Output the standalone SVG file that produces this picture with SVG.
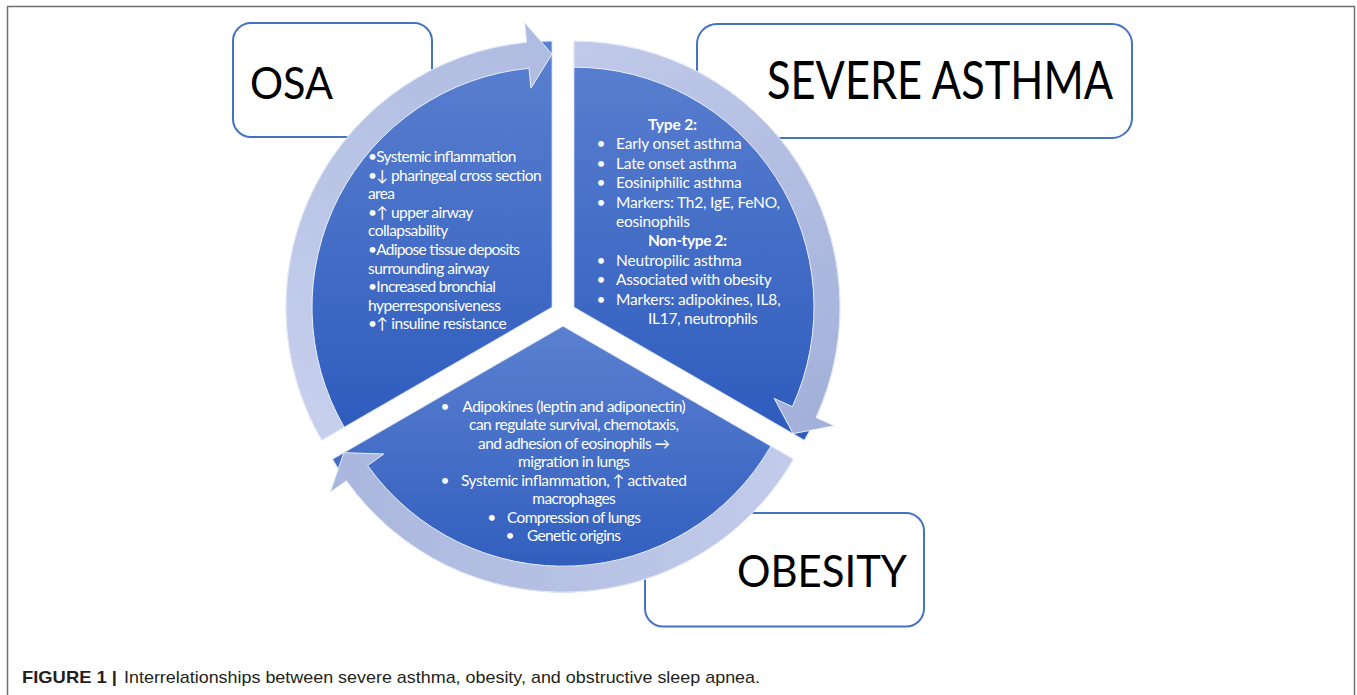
<svg xmlns="http://www.w3.org/2000/svg" width="1357" height="695" viewBox="0 0 1357 695">
  <defs>
    <style>
      .frame { fill: none; stroke: #707070; stroke-width: 1.5; }
      .box { fill: #ffffff; stroke: #4472c4; stroke-width: 2; }
      .title { font-family: "Lato", "Liberation Sans", sans-serif; fill: #000000; }
      .wedge { stroke: #d6def3; stroke-width: 0.8; }
      .body { font-family: "Lato", "Liberation Sans", "DejaVu Sans", sans-serif; fill: #ffffff; font-size: 15.5px; }
      .bold { font-weight: bold; }
      .ring { stroke: #e9eefa; stroke-width: 1; }
      .cap { font-family: "Liberation Sans", Arial, sans-serif; font-size: 17px; fill: #231f20; }
    </style>
    <linearGradient id="wedgeFill" x1="0" y1="0" x2="0" y2="1">
      <stop offset="0" stop-color="#5b80d0"/>
      <stop offset="1" stop-color="#2d5bbd"/>
    </linearGradient>
    <linearGradient id="ringOsa" gradientUnits="userSpaceOnUse" x1="330" y1="440" x2="540" y2="40">
      <stop offset="0" stop-color="#c6cfec"/>
      <stop offset="1" stop-color="#afbce1"/>
    </linearGradient>
    <linearGradient id="ringAsthma" gradientUnits="userSpaceOnUse" x1="574" y1="50" x2="800" y2="430">
      <stop offset="0" stop-color="#c0c9e9"/>
      <stop offset="1" stop-color="#a3b1da"/>
    </linearGradient>
    <linearGradient id="ringObesity" gradientUnits="userSpaceOnUse" x1="790" y1="460" x2="340" y2="470">
      <stop offset="0" stop-color="#c2cbea"/>
      <stop offset="1" stop-color="#aab7de"/>
    </linearGradient>
  </defs>

  <rect width="1357" height="695" fill="#ffffff"/>
  <path class="frame" d="M7.5,700 V6.5 H1354.5 V700"/>

  <!-- OSA -->
  <g id="osa">
    <rect class="box" x="233" y="23" width="199" height="114" rx="18" ry="18"/>
    <text class="title" x="250" y="98.5" font-size="45" textLength="83" lengthAdjust="spacingAndGlyphs">OSA</text>
    <path class="wedge" fill="url(#wedgeFill)" d="M552,307.15 L321.64,440.15 A266,266 0 0 1 552,41.15 Z"/>
    <g class="body" font-size="15">
      <text x="368" y="162" textLength="148.4">•Systemic inflammation</text>
      <text x="368" y="180.6" textLength="173.7">•↓ pharingeal cross section</text>
      <text x="368" y="199.2" textLength="27">area</text>
      <text x="368" y="217.8" textLength="105.3">•↑ upper airway</text>
      <text x="368" y="236.4" textLength="80.3">collapsability</text>
      <text x="368" y="255" textLength="152">•Adipose tissue deposits</text>
      <text x="368" y="273.6" textLength="121.3">surrounding airway</text>
      <text x="368" y="292.2" textLength="128">•Increased bronchial</text>
      <text x="368" y="310.8" textLength="133">hyperresponsiveness</text>
      <text x="368" y="329.4" textLength="138.7">•↑ insuline resistance</text>
    </g>
  </g>

  <!-- SEVERE ASTHMA -->
  <g id="severe-asthma">
    <rect class="box" x="697" y="24" width="435" height="114" rx="20" ry="20"/>
    <text class="title" x="767" y="98.5" font-size="52" textLength="346" lengthAdjust="spacingAndGlyphs">SEVERE ASTHMA</text>
    <path class="wedge" fill="url(#wedgeFill)" d="M574,307.15 L574,41.15 A266,266 0 0 1 804.36,440.15 Z"/>
    <g class="body">
      <text class="bold" x="648" y="130" textLength="49">Type 2:</text>
      <text x="601" y="149.4" text-anchor="middle">•</text>
      <text x="616" y="149.4" textLength="125.7">Early onset asthma</text>
      <text x="601" y="168.8" text-anchor="middle">•</text>
      <text x="616" y="168.8" textLength="120.7">Late onset asthma</text>
      <text x="601" y="188.2" text-anchor="middle">•</text>
      <text x="616" y="188.2" textLength="125.7">Eosiniphilic asthma</text>
      <text x="601" y="207.6" text-anchor="middle">•</text>
      <text x="616" y="207.6" textLength="164">Markers: Th2, IgE, FeNO,</text>
      <text x="616" y="227" textLength="74">eosinophils</text>
      <text class="bold" x="648" y="246.4" textLength="79">Non-type 2:</text>
      <text x="601" y="265.8" text-anchor="middle">•</text>
      <text x="616" y="265.8" textLength="125.7">Neutropilic asthma</text>
      <text x="601" y="285.2" text-anchor="middle">•</text>
      <text x="616" y="285.2" textLength="155.7">Associated with obesity</text>
      <text x="601" y="304.6" text-anchor="middle">•</text>
      <text x="616" y="304.6" textLength="164.7">Markers: adipokines, IL8,</text>
      <text x="648" y="324" textLength="109.7">IL17, neutrophils</text>
    </g>
  </g>

  <!-- OBESITY -->
  <g id="obesity">
    <rect class="box" x="645" y="513" width="279" height="113.5" rx="18" ry="18"/>
    <text class="title" x="737" y="586.5" font-size="44" textLength="170" lengthAdjust="spacingAndGlyphs">OBESITY</text>
    <path class="wedge" fill="url(#wedgeFill)" d="M563,326.2 L793.36,459.2 A266,266 0 0 1 332.64,459.2 Z"/>
    <g class="body" font-size="15">
      <text x="445" y="411.5" text-anchor="middle">•</text>
      <text x="574" y="411.5" text-anchor="middle" textLength="223.4">Adipokines (leptin and adiponectin)</text>
      <text x="574" y="430" text-anchor="middle" textLength="210">can regulate survival, chemotaxis,</text>
      <text x="574" y="448.5" text-anchor="middle" textLength="192">and adhesion of eosinophils →</text>
      <text x="574" y="467" text-anchor="middle" textLength="112">migration in lungs</text>
      <text x="445" y="485.5" text-anchor="middle">•</text>
      <text x="574" y="485.5" text-anchor="middle" textLength="226">Systemic inflammation, ↑ activated</text>
      <text x="574" y="504" text-anchor="middle" textLength="83.3">macrophages</text>
      <text x="491.7" y="522.5" text-anchor="middle">•</text>
      <text x="574" y="522.5" text-anchor="middle" textLength="134">Compression of lungs</text>
      <text x="510" y="541" text-anchor="middle">•</text>
      <text x="574" y="541" text-anchor="middle" textLength="94">Genetic origins</text>
    </g>
  </g>

  <!-- circular arrows linking the three conditions -->
  <g id="connectors">
    <path class="ring" fill="url(#ringAsthma)" d="M574,41.15 A266,266 0 0 1 816.05,417.46 L834.25,425.75 L793.1,433.65 L774.19,398.38 L792.39,406.68 A240,240 0 0 0 574,67.15 Z"/>
    <path class="ring" fill="url(#ringObesity)" d="M793.36,459.2 A266,266 0 0 1 346.44,480.67 L330.16,492.28 L343.9,452.7 L383.89,453.95 L367.61,465.57 A240,240 0 0 0 770.85,446.2 Z"/>
    <path class="ring" fill="url(#ringOsa)" d="M321.64,440.15 A266,266 0 0 1 526.5,42.37 L524.59,22.47 L552,54.15 L530.91,88.16 L529,68.25 A240,240 0 0 0 344.15,427.15 Z"/>
  </g>

  <!-- caption -->
  <text class="cap" x="22" y="683" font-weight="bold" textLength="95" lengthAdjust="spacingAndGlyphs">FIGURE 1 |</text>
  <text class="cap" x="124" y="683" textLength="636" lengthAdjust="spacingAndGlyphs">Interrelationships between severe asthma, obesity, and obstructive sleep apnea.</text>
</svg>
